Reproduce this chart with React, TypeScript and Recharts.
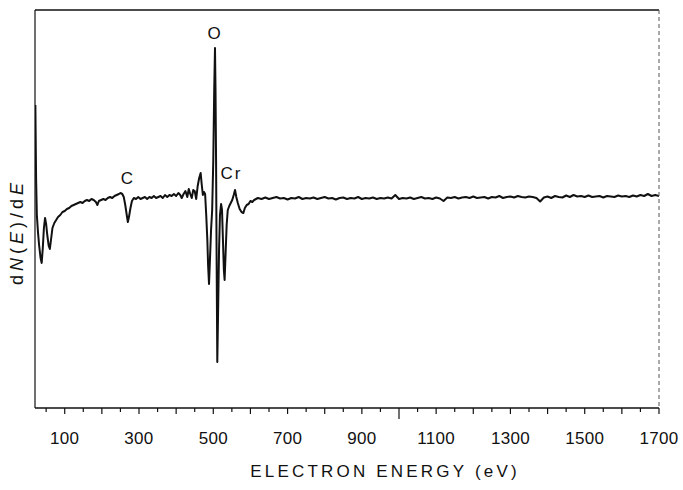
import React from "react";
import {
  LineChart,
  Line,
  XAxis,
  YAxis,
  ReferenceDot,
} from "recharts";

// Auger spectrum, derivative mode: [electron energy (eV), dN(E)/dE (arb. units)]
const lowEnergyRegion: [number, number][] = [
  [21, 95], [23, 20], [25, -15], [28, -32], [31, -45], [35, -58], [38, -63],
  [41, -48], [44, -28], [47, -18], [50, -24], [53, -35], [57, -46], [60, -49],
  [63, -40], [67, -28], [72, -23], [77, -20], [82, -17], [88, -15], [94, -12],
  [100, -11], [106, -9], [112, -8], [118, -6], [124, -5], [130, -4], [136, -3],
  [142, -2], [148, -3], [154, -1], [160, 0], [166, -1], [172, 1], [178, 0],
  [184, -2], [188, -5], [192, -1], [198, 0], [204, 1], [210, 0], [216, 2],
  [222, 3], [228, 2], [234, 4], [240, 5], [246, 6], [250, 7], [255, 6],
  [259, 3],
];

const carbonRegion: [number, number][] = [
  [263, -5], [267, -15], [270, -22], [273, -17], [277, -8], [281, -1],
  [286, 2], [292, 1], [298, 3], [304, 1], [310, 2], [316, 3], [322, 1],
  [328, 3], [334, 2], [340, 4], [346, 2], [352, 3], [358, 4], [364, 2],
  [370, 5], [376, 3], [382, 5], [388, 4], [394, 6], [400, 4], [406, 7],
  [411, 5], [415, 2], [420, 6], [425, 9], [430, 3], [434, 11], [438, 6],
  [442, 2], [446, 10], [450, 9], [454, 1], [458, 14], [462, 22], [466, 27],
  [469, 15], [472, 5], [475, 8], [478, 6],
];

const oxygenChromiumRegion: [number, number][] = [
  [481, -15], [484, -40], [486, -65], [488.5, -84], [491, -60], [494, -30],
  [497, -10], [500, 40], [502.5, 110], [504.6, 152], [506, 110], [507.5, 40],
  [509, -60], [510.8, -162], [513, -110], [515.5, -50], [518, -15], [521, -4],
  [523.5, -10], [526, -40], [528.5, -70], [530.5, -80], [533, -55], [536, -25],
  [539, -10], [543, -6], [547, -3], [551, 0], [555, 5], [558.5, 10], [562, 3],
  [566, -3], [571, -9], [576, -12], [581, -13], [585, -8], [590, -5], [595, -4],
  [600, -1], [605, -2], [610, 0], [615, 1], [620, 2],
];

const highEnergyRegion: [number, number][] = [
  [630, 1], [640, 2.5], [650, 1], [660, 2], [670, 3], [680, 1.5], [690, 2],
  [700, 0.5], [710, 2], [720, 1.5], [730, 3], [740, 1], [750, 2], [760, 1.5],
  [770, 2.5], [780, 1], [790, 2], [800, 3], [810, 1.5], [820, 2], [830, 0.5],
  [840, 2], [850, 2.5], [860, 1], [870, 2], [880, 1.5], [890, 3], [900, 1],
  [910, 2], [920, 1.5], [930, 2.5], [940, 1], [950, 2], [960, 1.5], [970, 2.5],
  [980, 1.5], [990, 5], [1000, 1], [1010, 2], [1020, 1.5], [1030, 2.5],
  [1040, 1], [1050, 2], [1060, 3], [1070, 1.5], [1080, 2], [1090, 1],
  [1100, 2.5], [1110, 1.5], [1120, -1], [1130, 2.5], [1140, 2], [1150, 3],
  [1160, 1.5], [1170, 2.5], [1180, 3], [1190, 2], [1200, 3.5], [1210, 2],
  [1220, 2.5], [1230, 3], [1240, 1.5], [1250, 3], [1260, 2.5], [1270, 4],
  [1280, 2], [1290, 3], [1300, 3.5], [1310, 2.5], [1320, 4], [1330, 3],
  [1340, 2.5], [1350, 3.5], [1360, 3], [1370, 2], [1380, -1.5], [1390, 2.5],
  [1400, 3.5], [1410, 2], [1420, 4], [1430, 3], [1440, 2.5], [1450, 4.5],
  [1460, 3], [1470, 5], [1480, 3.5], [1490, 4], [1500, 3], [1510, 4.5],
  [1520, 3], [1530, 3.5], [1540, 4], [1550, 2.5], [1560, 4], [1570, 3.5],
  [1580, 3], [1590, 4.5], [1600, 3.5], [1610, 4], [1620, 3], [1630, 4.5],
  [1640, 3.5], [1650, 5], [1660, 4], [1670, 6], [1680, 4], [1690, 5],
  [1700, 4],
];

const xTicks = [
  50, 100, 150, 200, 250, 300, 350, 400, 450, 500, 550, 600, 650, 700, 750,
  800, 850, 900, 950, 1000, 1050, 1100, 1150, 1200, 1250, 1300, 1350, 1400,
  1450, 1500, 1550, 1600, 1650, 1700,
];
const xTickLabels = [100, 300, 500, 700, 900, 1100, 1300, 1500, 1700];

const peakLabels = [
  { name: "C", energy: 270, level: 22 },
  { name: "O", energy: 505, level: 167 },
  { name: "Cr", energy: 549, level: 27 },
];

const data = [
  ...lowEnergyRegion,
  ...carbonRegion,
  ...oxygenChromiumRegion,
  ...highEnergyRegion,
].map(([e, v]) => ({ e, v }));

const FONT = "'Liberation Sans', Arial, sans-serif";
const INK = "#111";

const EnergyTick = (props: any) => {
  const { x, y, payload } = props;
  const v = payload.value;
  const len = v === 1000 ? 11 : v % 100 === 0 ? 6 : 4;
  return (
    <g>
      <line x1={x} y1={y} x2={x} y2={y + len} stroke={INK} strokeWidth={1.2} />
      {xTickLabels.includes(v) && (
        <text
          x={x}
          y={y + 36}
          textAnchor="middle"
          fontFamily={FONT}
          fontSize={17}
          letterSpacing={0.3}
          fill={INK}
        >
          {v}
        </text>
      )}
    </g>
  );
};

export default function App() {
  return (
    <div style={{ position: "absolute", left: 0, top: 0, background: "#fff" }}>
      <LineChart
        width={683}
        height={490}
        data={data}
        margin={{ top: 8, right: 22, left: 15, bottom: 22 }}
      >
        <XAxis
          dataKey="e"
          type="number"
          domain={[20, 1700]}
          ticks={xTicks}
          interval={0}
          allowDataOverflow
          height={60}
          tickSize={0}
          tickMargin={0}
          tickLine={false}
          tick={<EnergyTick />}
          axisLine={{ stroke: INK, strokeWidth: 1.4 }}
          label={{
            content: () => (
              <text
                x={385}
                y={477}
                textAnchor="middle"
                fontFamily={FONT}
                fontSize={17}
                letterSpacing={3.2}
                fill={INK}
              >
                ELECTRON ENERGY (eV)
              </text>
            ),
          }}
        />
        <XAxis
          xAxisId="top"
          orientation="top"
          dataKey="e"
          type="number"
          domain={[20, 1700]}
          allowDataOverflow
          height={2}
          tick={false}
          tickLine={false}
          axisLine={{ stroke: INK, strokeWidth: 1.4 }}
        />
        <YAxis
          yAxisId="left"
          type="number"
          domain={[-208, 190]}
          allowDataOverflow
          width={20}
          tick={false}
          tickLine={false}
          axisLine={{ stroke: INK, strokeWidth: 1.2 }}
          label={{
            content: () => (
              <text
                x={17}
                y={232}
                transform="rotate(-90 17 232)"
                textAnchor="middle"
                dominantBaseline="central"
                fontFamily={FONT}
                fontSize={18}
                letterSpacing={4}
                fill={INK}
              >
                d<tspan fontStyle="italic">N</tspan>(<tspan fontStyle="italic">E</tspan>)/d
                <tspan fontStyle="italic">E</tspan>
              </text>
            ),
          }}
        />
        <YAxis
          yAxisId="right"
          orientation="right"
          type="number"
          domain={[-208, 190]}
          allowDataOverflow
          width={2}
          tick={false}
          tickLine={false}
          axisLine={{ stroke: "#555", strokeWidth: 1, strokeDasharray: "4 3" }}
        />
        <Line
          yAxisId="left"
          dataKey="v"
          type="linear"
          stroke={INK}
          strokeWidth={2}
          strokeLinejoin="round"
          dot={false}
          isAnimationActive={false}
        />
        {peakLabels.map((p) => (
          <ReferenceDot
            key={p.name}
            yAxisId="left"
            x={p.energy}
            y={p.level}
            r={0}
            shape={(s: any) => (
              <text
                x={s.cx}
                y={s.cy}
                textAnchor="middle"
                dominantBaseline="central"
                fontFamily={FONT}
                fontSize={17}
                letterSpacing={2}
                fill={INK}
              >
                {p.name}
              </text>
            )}
          />
        ))}
      </LineChart>
    </div>
  );
}
